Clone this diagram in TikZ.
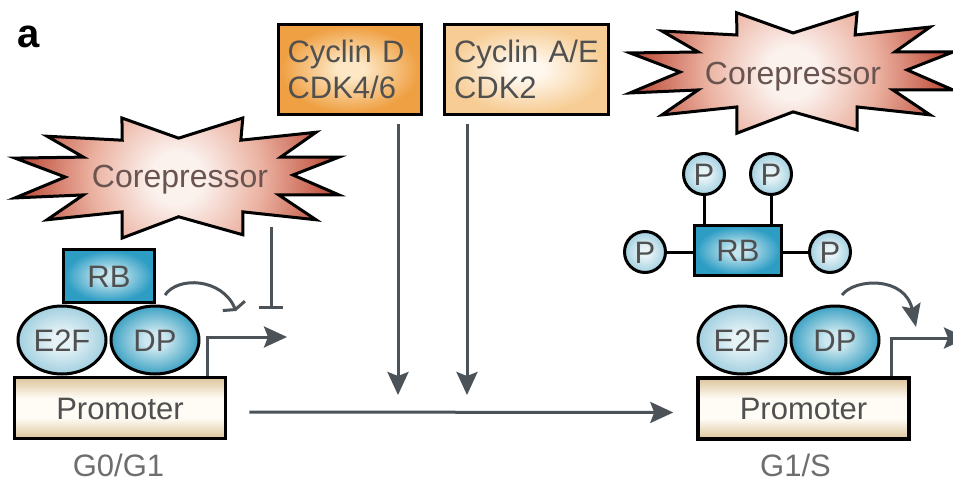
\documentclass[tikz,border=0pt]{standalone}
\usepackage{fontspec}
\setmainfont{Liberation Sans}
\usetikzlibrary{arrows.meta,shapes.geometric}

% palette
\definecolor{linegray}{HTML}{4B5258}
\definecolor{inkgray}{HTML}{505050}
\definecolor{labelgray}{HTML}{6E6E6E}
\definecolor{burstink}{HTML}{6A5450}
\definecolor{cycDin}{HTML}{FDE7C4}
\definecolor{cycDout}{HTML}{EFA043}
\definecolor{cycAin}{HTML}{FFF8EF}
\definecolor{cycAout}{HTML}{F7CD95}
\definecolor{burstin}{HTML}{FBF1ED}
\definecolor{burstmid}{HTML}{EBB1A0}
\definecolor{burstout}{HTML}{BC4836}
\definecolor{lbluein}{HTML}{E6F3F7}
\definecolor{lblueout}{HTML}{A3D0E0}
\definecolor{dbluein}{HTML}{CDE8F0}
\definecolor{dblueout}{HTML}{3DA2C3}
\definecolor{rbin}{HTML}{C4E5EE}
\definecolor{rbout}{HTML}{2E9DC4}
\definecolor{promedge}{HTML}{DCC49A}
\definecolor{promin}{HTML}{FFFCF6}

% shadings (path bounding box maps to the central 50bp square)
\pgfdeclareradialshading{cycDsh}{\pgfpoint{0bp}{0bp}}{color(0bp)=(cycDin); color(5bp)=(cycDin); color(24bp)=(cycDout); color(50bp)=(cycDout)}
\pgfdeclareradialshading{cycAsh}{\pgfpoint{0bp}{0bp}}{color(0bp)=(cycAin); color(5bp)=(cycAin); color(24bp)=(cycAout); color(50bp)=(cycAout)}
\pgfdeclareradialshading{burstsh}{\pgfpoint{0bp}{0bp}}{color(0bp)=(burstin); color(4bp)=(burstin); color(13bp)=(burstmid); color(24bp)=(burstout); color(50bp)=(burstout)}
\pgfdeclareradialshading{lbluesh}{\pgfpoint{0bp}{0bp}}{color(0bp)=(lbluein); color(6bp)=(lbluein); color(25bp)=(lblueout); color(50bp)=(lblueout)}
\pgfdeclareradialshading{dbluesh}{\pgfpoint{0bp}{0bp}}{color(0bp)=(dbluein); color(6bp)=(dbluein); color(25bp)=(dblueout); color(50bp)=(dblueout)}
\pgfdeclareradialshading{rbsh}{\pgfpoint{0bp}{0bp}}{color(0bp)=(rbin); color(5bp)=(rbin); color(24bp)=(rbout); color(50bp)=(rbout)}
\pgfdeclareverticalshading{promsh}{100bp}{color(0bp)=(promedge); color(25bp)=(promedge); color(42bp)=(promin); color(58bp)=(promin); color(75bp)=(promedge); color(100bp)=(promedge)}

% starburst outline in a unit box (y pointing down)
\newcommand\burstshape{(0.330,0) -- (0.505,0.168) -- (0.703,0) -- (0.697,0.185) -- (0.929,0.119) -- (0.820,0.326) -- (1,0.326) -- (0.858,0.475) -- (1,0.641) -- (0.814,0.641) -- (0.929,0.848) -- (0.703,0.782) -- (0.703,0.973) -- (0.505,0.823) -- (0.331,1) -- (0.331,0.782) -- (0.099,0.848) -- (0.211,0.641) -- (0,0.666) -- (0.155,0.492) -- (0,0.334) -- (0.211,0.326) -- (0.099,0.152) -- (0.331,0.185) -- cycle}

\begin{document}
\begin{tikzpicture}[x=1pt,y=-1pt,
  txt/.style={font=\fontsize{31}{35.5}\selectfont, text=inkgray},
  capc/.style={text height=22pt, text depth=0pt},
  cyclin/.style={txt, draw=black, line width=3.5pt, shade, align=left,
    inner xsep=9pt, minimum height=90pt},
  protein/.style={txt, capc, draw=black, line width=3pt, shade, ellipse,
    inner sep=0pt, minimum width=88pt, minimum height=68pt},
  rbbox/.style={txt, capc, draw=black, line width=3.5pt, shade, shading=rbsh,
    inner sep=0pt},
  phos/.style={txt, capc, draw=black, line width=3pt, shade, shading=lbluesh,
    circle, inner sep=0pt, minimum size=41pt},
  promoter/.style={txt, capc, draw=black, line width=3.5pt, shade, shading=promsh,
    inner sep=0pt, minimum width=211pt, minimum height=61pt},
  phase/.style={font=\fontsize{31}{35}\selectfont, text=labelgray, capc, inner sep=0pt},
  burstlbl/.style={font=\fontsize{32}{36}\selectfont, text=burstink, capc, inner sep=0pt},
  burstfill/.style={path picture={\shade[shading=burstsh]
    (path picture bounding box.center) circle[radius=165pt];}},
  burstline/.style={draw=black, line width=3pt, line join=miter},
  arr/.style={draw=linegray, line width=3pt,
    -{Stealth[length=23pt,width=21pt,inset=4pt]}},
  activarr/.style={draw=linegray, line width=3pt,
    -{Stealth[length=23pt,width=19pt,inset=4pt]}},
  blockedarr/.style={draw=linegray, line width=3pt,
    -{Straight Barb[length=4pt,width=24pt,line width=3pt]}},
  inhibit/.style={draw=linegray, line width=3pt,
    -{Bar[width=24pt,line width=3pt]}},
  pline/.style={draw=black, line width=3pt}
]
\useasboundingbox (0,0) rectangle (953,482);
\fill[white] (0,0) rectangle (953,482);

% panel letter
\node[font=\fontsize{40}{40}\selectfont\bfseries, anchor=base west, inner sep=0pt] (panel) at (17,47) {a};

% kinases
\node[cyclin, shading=cycDsh, text width=125pt, minimum width=143pt] (cycD) at (350,69.5) {Cyclin D\\CDK4/6};
\node[cyclin, shading=cycAsh, text width=145pt, minimum width=164pt] (cycAE) at (526.5,69.5) {Cyclin A/E\\CDK2};

% corepressors
\begin{scope}[shift={(15,118)}, x=324pt, y=-120pt]
  \path[burstfill] \burstshape;
  \draw[burstline] \burstshape;
\end{scope}
\node[burstlbl] (corepL) at (180,176) {Corepressor};

\begin{scope}[shift={(630,12.7)}, x=323pt, y=-120.5pt]
  \path[burstfill] \burstshape;
  \draw[burstline] \burstshape;
\end{scope}
\node[burstlbl] (corepR) at (793,73) {Corepressor};

% G0/G1 complex
\node[promoter] (promL) at (120,408) {Promoter};
\node[protein, shading=lbluesh] (e2fL) at (62,340) {E2F};
\node[protein, shading=dbluesh] (dpL) at (155,340) {DP};
\node[rbbox, minimum width=91pt, minimum height=53pt] (rbL) at (109,276) {RB};
\node[phase] (g0) at (118.5,465) {G0/G1};

% G1/S complex
\node[promoter] (promR) at (803.5,408.5) {Promoter};
\node[protein, shading=lbluesh] (e2fR) at (742,340) {E2F};
\node[protein, shading=dbluesh] (dpR) at (835,340) {DP};
\node[phase] (g1s) at (795.5,465) {G1/S};

% phosphorylated RB
\node[rbbox, minimum width=87pt, minimum height=50pt] (rbR) at (738,250.5) {RB};
\node[phos] (pTL) at (704,174) {P};
\node[phos] (pTR) at (771,174) {P};
\node[phos] (pL) at (645,252) {P};
\node[phos] (pR) at (830,252) {P};
\draw[pline] (pTL) -- (pTL |- rbR.north);
\draw[pline] (pTR) -- (pTR |- rbR.north);
\draw[pline] (pL) -- (pL -| rbR.west);
\draw[pline] (pR) -- (pR -| rbR.east);

% repression at G0/G1
\coordinate (inhS) at (271,227);
\coordinate (inhE) at (271,309);
\draw[inhibit] (inhS) -- (inhE);
\coordinate (bendL0) at (165,295);
\coordinate (bendL1) at (236,311);
\draw[blockedarr] (bendL0) .. controls (178,276) and (222,278) .. (bendL1);
\coordinate (tssL) at (207,337);
\coordinate (tipL) at (287,337);
\draw[arr] (promL.north -| tssL) |- (tipL);

% kinase action and transition
\coordinate (dTip) at (398,395);
\coordinate (aeTip) at (467,395);
\draw[arr, shorten <=8pt] (cycD.south -| dTip) -- (dTip);
\draw[arr, shorten <=8pt] (cycAE.south -| aeTip) -- (aeTip);
\draw[arr, shorten <=22pt, shorten >=23pt] ([yshift=-4pt]promL.east) -- ([yshift=-4pt]promR.west);

% activation at G1/S
\coordinate (bendR0) at (842,295);
\coordinate (bendR1) at (916,327);
\draw[activarr] (bendR0) .. controls (855,278) and (905,276) .. (bendR1);
\coordinate (tssR) at (891,338);
\coordinate (tipR) at (967,338);
\draw[arr] (promR.north -| tssR) |- (tipR);
\end{tikzpicture}
\end{document}
